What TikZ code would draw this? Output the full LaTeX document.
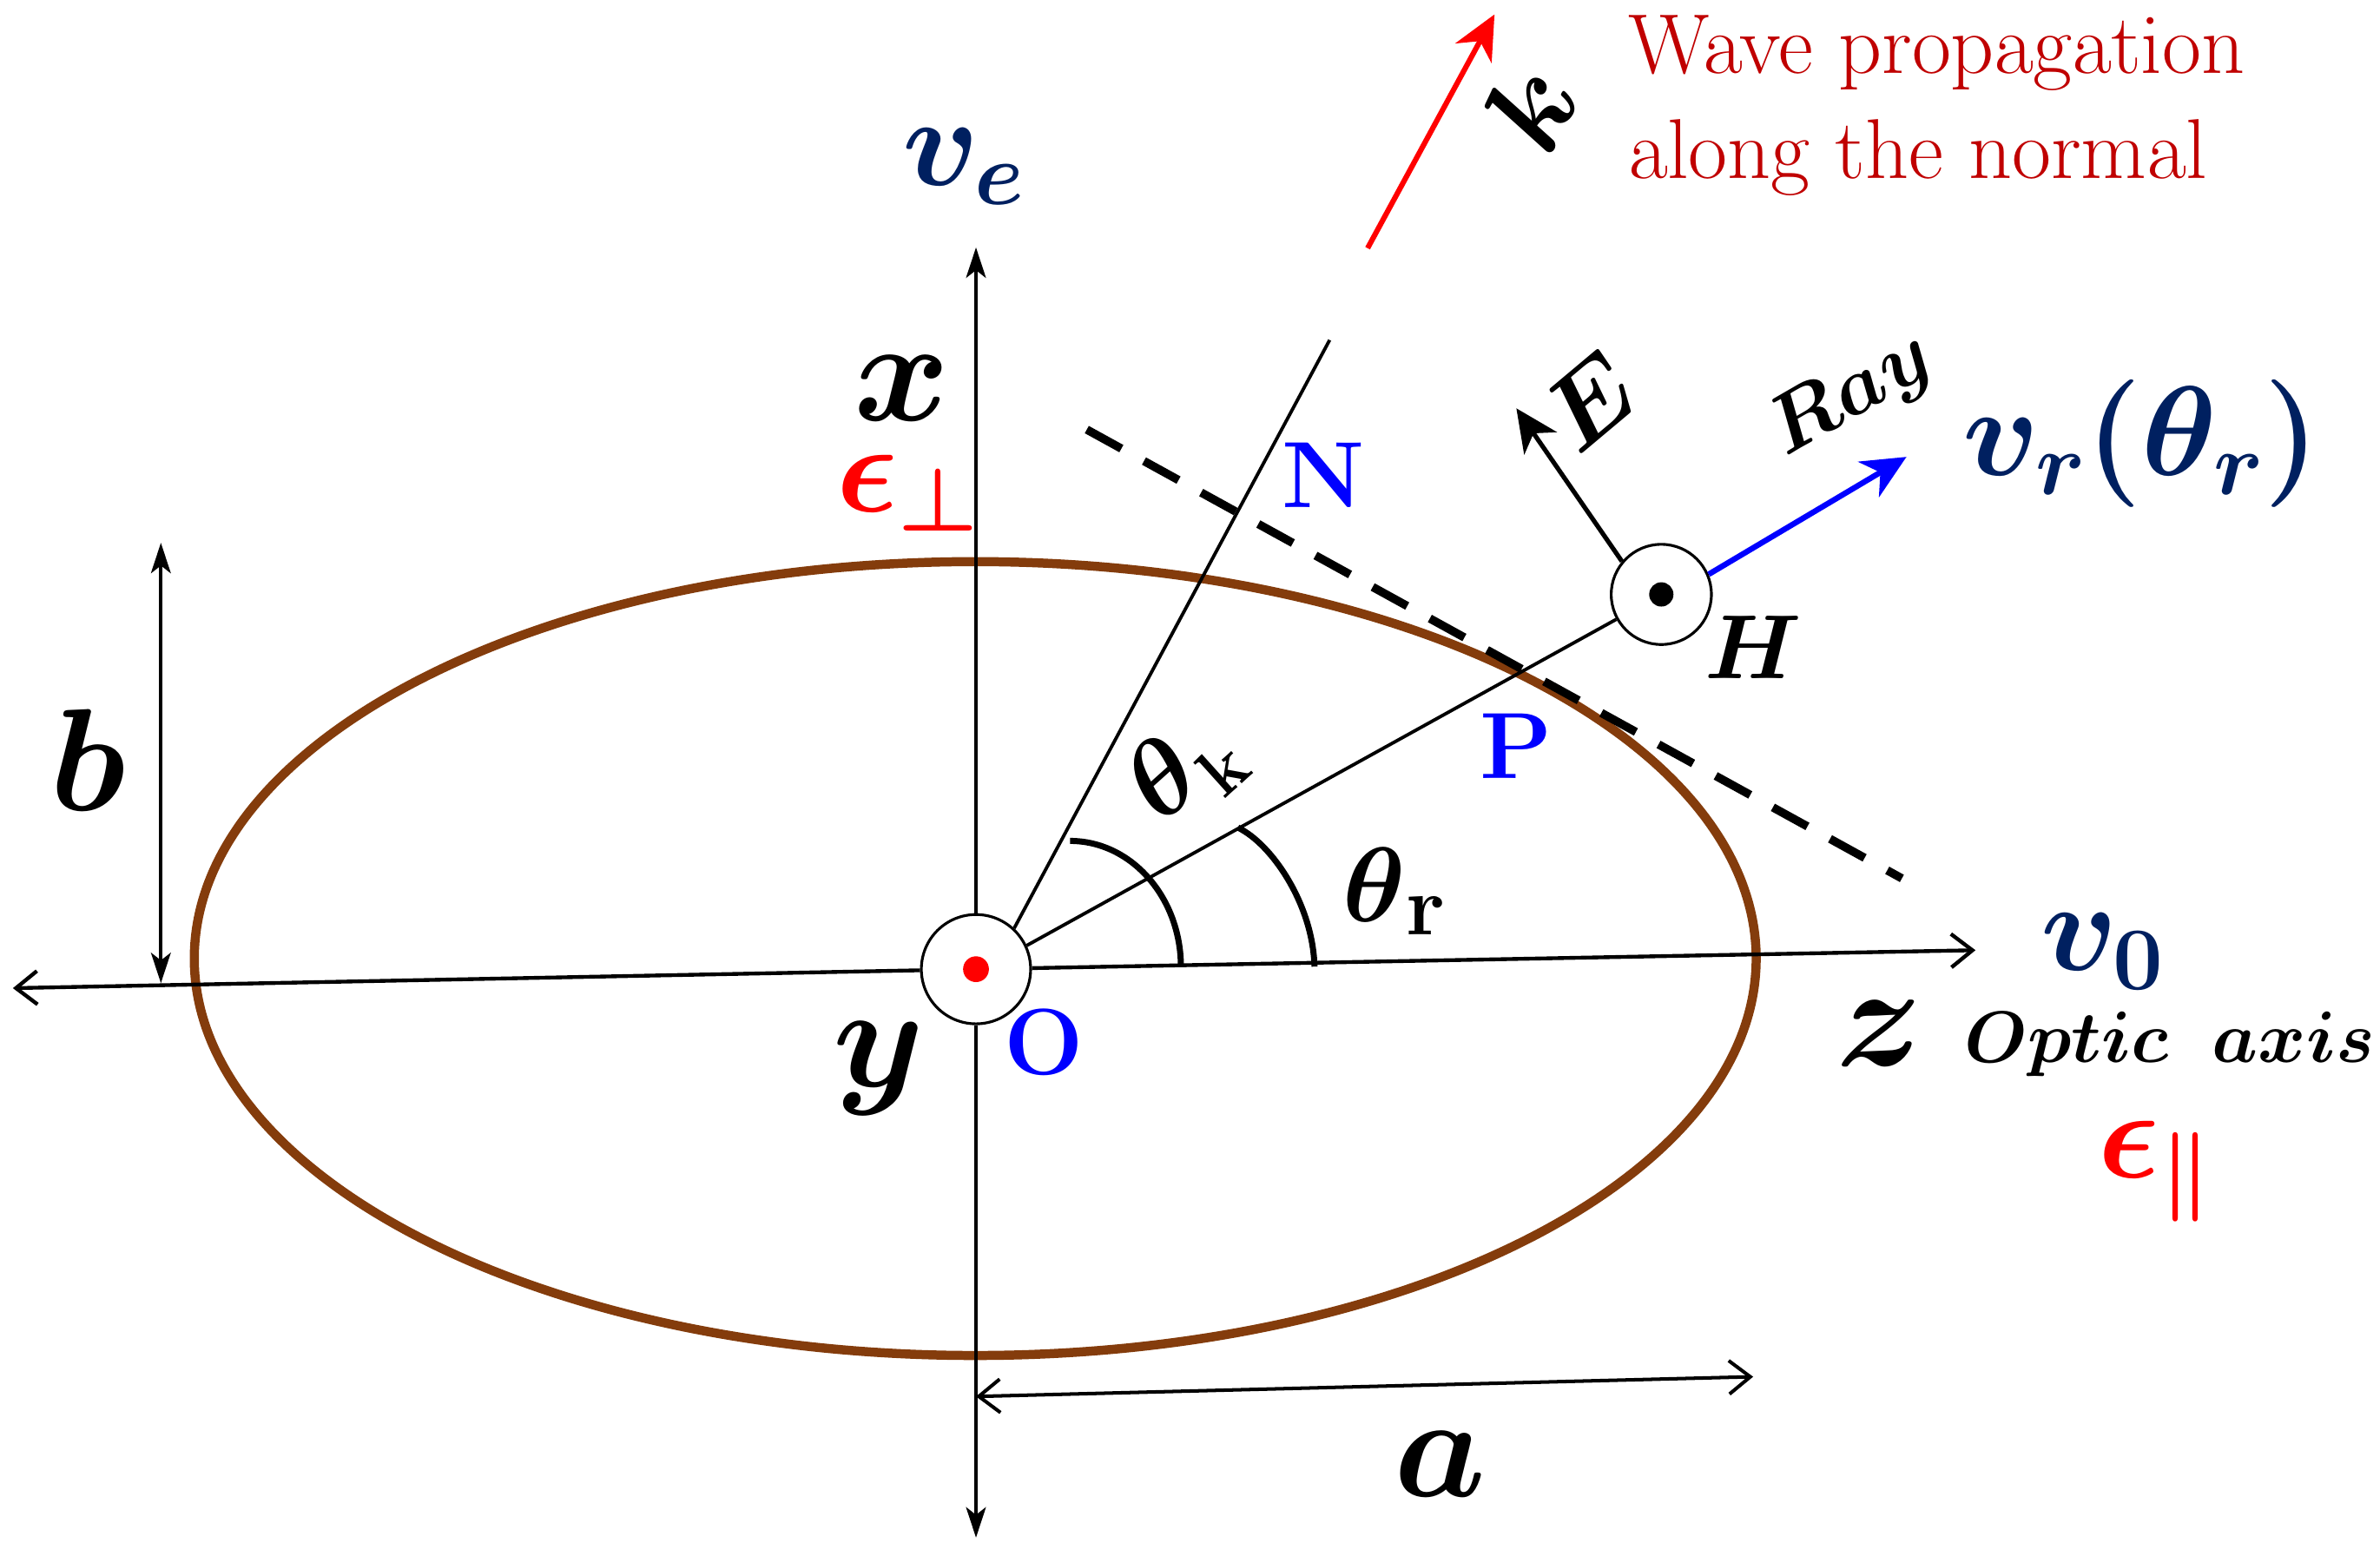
\RequirePackage{fix-cm}
\documentclass[tikz,border=0pt]{standalone}
\usepackage[OT1]{fontenc}
\renewcommand{\rmdefault}{cmr}
\renewcommand{\familydefault}{\rmdefault}
\usetikzlibrary{arrows.meta}
\definecolor{navy}{HTML}{002060}
\definecolor{wavered}{HTML}{C00000}
\definecolor{brownc}{HTML}{843C0C}
\definecolor{pblue}{HTML}{0000FF}
\tikzset{
  bi/.style={font=\rmfamily\fontsize{96}{96}\selectfont\mathversion{bold}, inner sep=0pt, anchor=base},
  bl/.style={font=\rmfamily\fontsize{62}{62}\selectfont\bfseries, text=pblue, inner sep=0pt, anchor=base},
  mth/.style={font=\rmfamily\fontsize{84}{84}\selectfont\mathversion{bold}, inner sep=0pt, anchor=base},
  axisline/.style={line width=2.5pt},
  vtip/.tip={Stealth[length=20pt,width=13pt,inset=5pt]},
  htip/.tip={Straight Barb[length=14pt,width=22pt]},
  big/.tip={Stealth[length=29pt,width=27pt,inset=9pt]},
  ring/.style={circle, draw, line width=1.8pt, inner sep=0pt, fill=white},
  arcline/.style={line width=4pt}
}
\begin{document}
\begin{tikzpicture}[x=1pt,y=-1pt]
\useasboundingbox (0,0) rectangle (1568,1016);

% index ellipse
\draw[brownc, line width=6pt] (642.5,631.5) ellipse [x radius=514.5pt, y radius=261.5pt];

% origin and H rings
\node[ring, minimum size=72pt] (O) at (643,638.5) {};
\fill[red] (O.center) circle (8.5pt);
\node[ring, minimum size=66pt] (H) at (1094.5,391.6) {};
\fill (H.center) circle (8pt);

% coordinates
\coordinate (vt) at (643,163);
\coordinate (vb) at (643,1013);
\coordinate (hl) at (8.5,651);
\coordinate (hr) at (1301.5,626);
\coordinate (nt) at (876,224);
\coordinate (et) at (999,269);
\coordinate (vrt) at (1256,301);
\coordinate (k0) at (901,163.5);
\coordinate (k1) at (984.6,9.5);
\coordinate (d1) at (716,283);
\coordinate (d2) at (1253,578.7);
\coordinate (b1) at (106,357.6);
\coordinate (b2) at (106,647.7);
\coordinate (a1) at (643,920);
\coordinate (a2) at (1155,907);
\coordinate (tk1) at (705,554);
\coordinate (tk2) at (778,637);
\coordinate (tr1) at (815.5,545.2);
\coordinate (tr2) at (866,636.8);

% axes
\draw[axisline, -vtip] (O) -- (vt);
\draw[axisline, -vtip] (O) -- (vb);
\draw[axisline, -htip] (O) -- (hl);
\draw[axisline, -htip] (O) -- (hr);

% wave normal, ray, tangent
\draw[line width=2.2pt] (O.47) -- (nt);
\draw[line width=2.2pt] (O.25) -- (H);
\draw[line width=5.5pt, dash pattern=on 26pt off 17pt] (d1) -- (d2);
\draw[red, line width=3.5pt, -big] (k0) -- (k1);
\draw[line width=3pt, -{Stealth[length=28pt,width=26pt,inset=8pt]}] (H.140) -- (et);
\draw[pblue, line width=3.7pt, -big] (H.23) -- (vrt);

% angle arcs
\draw[arcline] (tk1) .. controls (745.3,554) and (778,591.2) .. (tk2);
\draw[arcline] (tr1) .. controls (838,556) and (865,596) .. (tr2);

% dimension arrows
\draw[line width=2.3pt, vtip-vtip] (b1) -- (b2);
\draw[line width=2.3pt, htip-htip] (a1) -- (a2);

% labels
\node[bi] (xl) at (594,277) {$x$};
\node[bi] (yl) at (579,716) {$y$};
\node[bi] (zl) at (1238,702) {$z$};
\node[bi] (bl) at (58,534) {$b$};
\node[bi] (al) at (949,986) {$a$};
\node[bi, font=\rmfamily\fontsize{60}{60}\selectfont\mathversion{bold}] (Hl) at (1155,447) {$H$};
\node[bi, font=\rmfamily\fontsize{48}{48}\selectfont\mathversion{bold}, anchor=base west] (opt) at (1294,700) {$Optic\ \ axis$};
\node[bi, font=\rmfamily\fontsize{78}{78}\selectfont\mathversion{bold}, anchor=center, rotate=62] (kl) at (1008,71) {$k$};
\node[bi, font=\rmfamily\fontsize{68}{68}\selectfont\mathversion{bold}, anchor=center, rotate=40] (El) at (1047.5,264.6) {$E$};
\node[bi, font=\rmfamily\fontsize{54}{54}\selectfont\mathversion{bold}, anchor=center, rotate=30] (Rl) at (1220,261) {$Ray$};

\node[bl] (Nl) at (872,334.6) {N};
\node[bl] (Pl) at (999,513) {P};
\node[bl] (Ol) at (688,708) {O};

\node[mth, text=navy] (ve) at (635,122) {$v_e$};
\node[mth, text=navy] (vr) at (1411,313) {$v_r(\theta_r)$};
\node[mth, text=navy] (v0) at (1385,639) {$v_0$};
\node[mth, text=red] (ep) at (598,337) {$\epsilon_\perp$};
\node[mth, text=red] (epar) at (1420,776) {$\epsilon_\parallel$};

\node[font=\rmfamily\fontsize{56}{56}\selectfont, text=wavered, anchor=base west, inner sep=0pt] (w1) at (1072.6,48.5) {Wave propagation};
\node[font=\rmfamily\fontsize{56}{56}\selectfont, text=wavered, anchor=base west, inner sep=0pt] (w2) at (1072.6,117.5) {along the normal};

\node[font=\rmfamily\fontsize{70}{70}\selectfont\mathversion{bold}, rotate=42, inner sep=0pt] (thk) at (780,508) {$\theta$\raisebox{-15pt}{\fontsize{46}{46}\selectfont\bfseries k}};
\node[font=\rmfamily\fontsize{70}{70}\selectfont\mathversion{bold}, anchor=base west, inner sep=0pt] (thr) at (884.5,607) {$\theta$\raisebox{-9pt}{\fontsize{56}{56}\selectfont\bfseries r}};
\end{tikzpicture}
\end{document}
